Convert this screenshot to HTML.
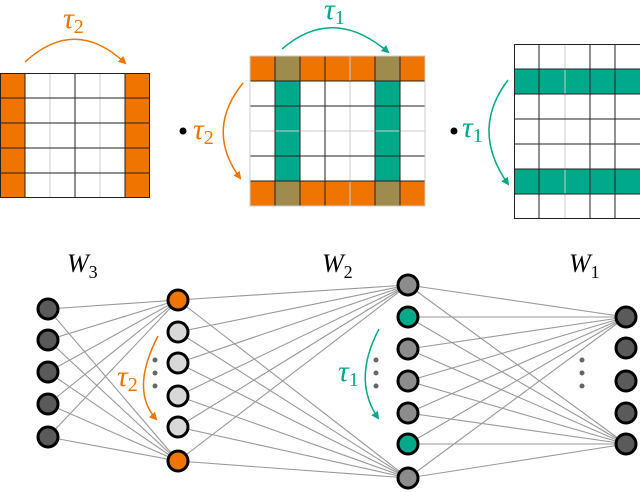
<!DOCTYPE html>
<html><head><meta charset="utf-8"><style>
html,body{margin:0;padding:0;background:#fff;}
svg{display:block;}
.t{font-family:"Liberation Serif","DejaVu Serif",serif;font-style:italic;}
</style></head><body>
<svg width="640" height="492" viewBox="0 0 640 492" xmlns="http://www.w3.org/2000/svg">
<defs>
<marker id="ao" markerWidth="8" markerHeight="8" refX="6" refY="4" orient="auto" markerUnits="userSpaceOnUse"><path d="M0,0 L8,4 L0,8 Z" fill="#f07400"/></marker>
<marker id="at" markerWidth="8" markerHeight="8" refX="6" refY="4" orient="auto" markerUnits="userSpaceOnUse"><path d="M0,0 L8,4 L0,8 Z" fill="#00a98a"/></marker>
</defs>
<g>
<rect x="0" y="73" width="25" height="125" fill="#f07400"/>
<rect x="125" y="73" width="25" height="125" fill="#f07400"/>
<g stroke="#ccc" stroke-width="1"><line x1="50" y1="73" x2="50" y2="198"/><line x1="100" y1="73" x2="100" y2="198"/></g>
<g stroke="#222" stroke-width="1">
<line x1="25" y1="73" x2="25" y2="198"/><line x1="75" y1="73" x2="75" y2="198"/><line x1="125" y1="73" x2="125" y2="198"/>
<line x1="0" y1="98" x2="150" y2="98"/><line x1="0" y1="123" x2="150" y2="123"/><line x1="0" y1="148" x2="150" y2="148"/><line x1="0" y1="173" x2="150" y2="173"/>
<rect x="0.5" y="73.5" width="149" height="124" fill="none"/>
</g>
</g>
<path d="M25,62 Q75,16 125,63" fill="none" stroke="#f07400" stroke-width="1.5" marker-end="url(#ao)"/>
<text class="t" x="63" y="28" font-size="30" fill="#f07400">τ<tspan font-size="20" font-style="normal" dy="5">2</tspan></text>
<g>
<rect x="250" y="81" width="175" height="100" fill="#fff"/>
<rect x="250" y="56" width="175" height="25" fill="#f07400"/>
<rect x="250" y="181" width="175" height="25" fill="#f07400"/>
<rect x="275" y="81" width="25" height="100" fill="#00a98a"/>
<rect x="375" y="81" width="25" height="100" fill="#00a98a"/>
<rect x="275" y="56" width="25" height="25" fill="#9e8b4d"/>
<rect x="375" y="56" width="25" height="25" fill="#9e8b4d"/>
<rect x="275" y="181" width="25" height="25" fill="#9e8b4d"/>
<rect x="375" y="181" width="25" height="25" fill="#9e8b4d"/>
<g stroke="#ccc" stroke-width="1"><line x1="250" y1="131" x2="425" y2="131"/><line x1="350" y1="56" x2="350" y2="206"/></g>
<g stroke="#222" stroke-width="1">
<line x1="275" y1="56" x2="275" y2="206"/><line x1="300" y1="56" x2="300" y2="206"/><line x1="325" y1="56" x2="325" y2="206"/><line x1="375" y1="56" x2="375" y2="206"/><line x1="400" y1="56" x2="400" y2="206"/>
<line x1="250" y1="81" x2="425" y2="81"/><line x1="250" y1="106" x2="425" y2="106"/><line x1="250" y1="156" x2="425" y2="156"/><line x1="250" y1="181" x2="425" y2="181"/>
</g>
<rect x="250" y="56" width="175" height="150" fill="none" stroke="#ccc" stroke-width="1"/>
</g>
<path d="M282,49 Q333,5 388,52" fill="none" stroke="#00a98a" stroke-width="1.5" marker-end="url(#at)"/>
<text class="t" x="324" y="19" font-size="30" fill="#00a98a">τ<tspan font-size="20" font-style="normal" dy="5">1</tspan></text>
<circle cx="183" cy="131" r="3.5" fill="#000"/>
<text class="t" x="193" y="139" font-size="30" fill="#f07400">τ<tspan font-size="20" font-style="normal" dy="5">2</tspan></text>
<path d="M243,83 Q205,130 240,178" fill="none" stroke="#f07400" stroke-width="1.5" marker-end="url(#ao)"/>
<g>
<rect x="514" y="69" width="126" height="25" fill="#00a98a"/>
<rect x="514" y="169" width="126" height="25" fill="#00a98a"/>
<g stroke="#ccc" stroke-width="1"><line x1="565" y1="44" x2="565" y2="219"/></g>
<g stroke="#222" stroke-width="1">
<line x1="539" y1="44" x2="539" y2="219"/><line x1="590" y1="44" x2="590" y2="219"/><line x1="615" y1="44" x2="615" y2="219"/>
<line x1="514" y1="69" x2="640" y2="69"/><line x1="514" y1="94" x2="640" y2="94"/><line x1="514" y1="119" x2="640" y2="119"/><line x1="514" y1="144" x2="640" y2="144"/><line x1="514" y1="169" x2="640" y2="169"/><line x1="514" y1="194" x2="640" y2="194"/>
<rect x="514.5" y="44.5" width="130" height="174" fill="none"/>
</g>
</g>
<circle cx="454" cy="131" r="3.5" fill="#000"/>
<text class="t" x="462" y="137" font-size="30" fill="#00a98a">τ<tspan font-size="20" font-style="normal" dy="5">1</tspan></text>
<path d="M508,80 Q470,130 508,184" fill="none" stroke="#00a98a" stroke-width="1.5" marker-end="url(#at)"/>
<text class="t" x="67" y="272" font-size="26" fill="#000">W<tspan font-size="18" font-style="normal" dy="6">3</tspan></text>
<text class="t" x="322" y="272" font-size="26" fill="#000">W<tspan font-size="18" font-style="normal" dy="6">2</tspan></text>
<text class="t" x="569" y="272" font-size="26" fill="#000">W<tspan font-size="18" font-style="normal" dy="6">1</tspan></text>
<g stroke="#999" stroke-width="1.1">
<line x1="48" y1="309" x2="178" y2="300"/><line x1="48" y1="340" x2="178" y2="300"/><line x1="48" y1="372" x2="178" y2="300"/><line x1="48" y1="404" x2="178" y2="300"/><line x1="48" y1="437" x2="178" y2="300"/>
<line x1="48" y1="309" x2="178" y2="461"/><line x1="48" y1="340" x2="178" y2="461"/><line x1="48" y1="372" x2="178" y2="461"/><line x1="48" y1="404" x2="178" y2="461"/><line x1="48" y1="437" x2="178" y2="461"/>
<line x1="178" y1="300" x2="408" y2="285"/><line x1="178" y1="332" x2="408" y2="285"/><line x1="178" y1="363" x2="408" y2="285"/><line x1="178" y1="396" x2="408" y2="285"/><line x1="178" y1="427" x2="408" y2="285"/><line x1="178" y1="461" x2="408" y2="285"/>
<line x1="178" y1="300" x2="408" y2="478"/><line x1="178" y1="332" x2="408" y2="478"/><line x1="178" y1="363" x2="408" y2="478"/><line x1="178" y1="396" x2="408" y2="478"/><line x1="178" y1="427" x2="408" y2="478"/><line x1="178" y1="461" x2="408" y2="478"/>
<line x1="408" y1="285" x2="626" y2="317"/><line x1="408" y1="317" x2="626" y2="317"/><line x1="408" y1="349" x2="626" y2="317"/><line x1="408" y1="381" x2="626" y2="317"/><line x1="408" y1="413" x2="626" y2="317"/><line x1="408" y1="444" x2="626" y2="317"/><line x1="408" y1="478" x2="626" y2="317"/>
<line x1="408" y1="285" x2="626" y2="444"/><line x1="408" y1="317" x2="626" y2="444"/><line x1="408" y1="349" x2="626" y2="444"/><line x1="408" y1="381" x2="626" y2="444"/><line x1="408" y1="413" x2="626" y2="444"/><line x1="408" y1="444" x2="626" y2="444"/><line x1="408" y1="478" x2="626" y2="444"/>
</g>
<g stroke="#000" stroke-width="3">
<g fill="#5a5a5a"><circle cx="48" cy="309" r="10"/><circle cx="48" cy="340" r="10"/><circle cx="48" cy="372" r="10"/><circle cx="48" cy="404" r="10"/><circle cx="48" cy="437" r="10"/></g>
<circle cx="178" cy="300" r="10" fill="#f07400"/>
<g fill="#d8d8d8"><circle cx="178" cy="332" r="10"/><circle cx="178" cy="363" r="10"/><circle cx="178" cy="396" r="10"/><circle cx="178" cy="427" r="10"/></g>
<circle cx="178" cy="461" r="10" fill="#f07400"/>
<g fill="#8c8c8c"><circle cx="408" cy="285" r="10"/><circle cx="408" cy="349" r="10"/><circle cx="408" cy="381" r="10"/><circle cx="408" cy="413" r="10"/><circle cx="408" cy="478" r="10"/></g>
<g fill="#00a98a"><circle cx="408" cy="317" r="10"/><circle cx="408" cy="444" r="10"/></g>
<g fill="#5a5a5a"><circle cx="626" cy="317" r="10"/><circle cx="626" cy="348" r="10"/><circle cx="626" cy="381" r="10"/><circle cx="626" cy="413" r="10"/><circle cx="626" cy="444" r="10"/></g>
</g>
<g fill="#666"><circle cx="155" cy="360" r="2.5"/><circle cx="155" cy="373" r="2.5"/><circle cx="155" cy="386" r="2.5"/>
<circle cx="376" cy="360" r="2.5"/><circle cx="376" cy="373" r="2.5"/><circle cx="376" cy="386" r="2.5"/>
<circle cx="582" cy="360" r="2.5"/><circle cx="582" cy="373" r="2.5"/><circle cx="582" cy="386" r="2.5"/></g>
<path d="M158,336 Q130,390 156,419" fill="none" stroke="#f07400" stroke-width="1.5" marker-end="url(#ao)"/>
<text class="t" x="117" y="386" font-size="30" fill="#f07400">τ<tspan font-size="20" font-style="normal" dy="5">2</tspan></text>
<path d="M379,329 Q352,380 378,418" fill="none" stroke="#00a98a" stroke-width="1.5" marker-end="url(#at)"/>
<text class="t" x="338" y="381" font-size="30" fill="#00a98a">τ<tspan font-size="20" font-style="normal" dy="5">1</tspan></text>
</svg>
</body></html>
